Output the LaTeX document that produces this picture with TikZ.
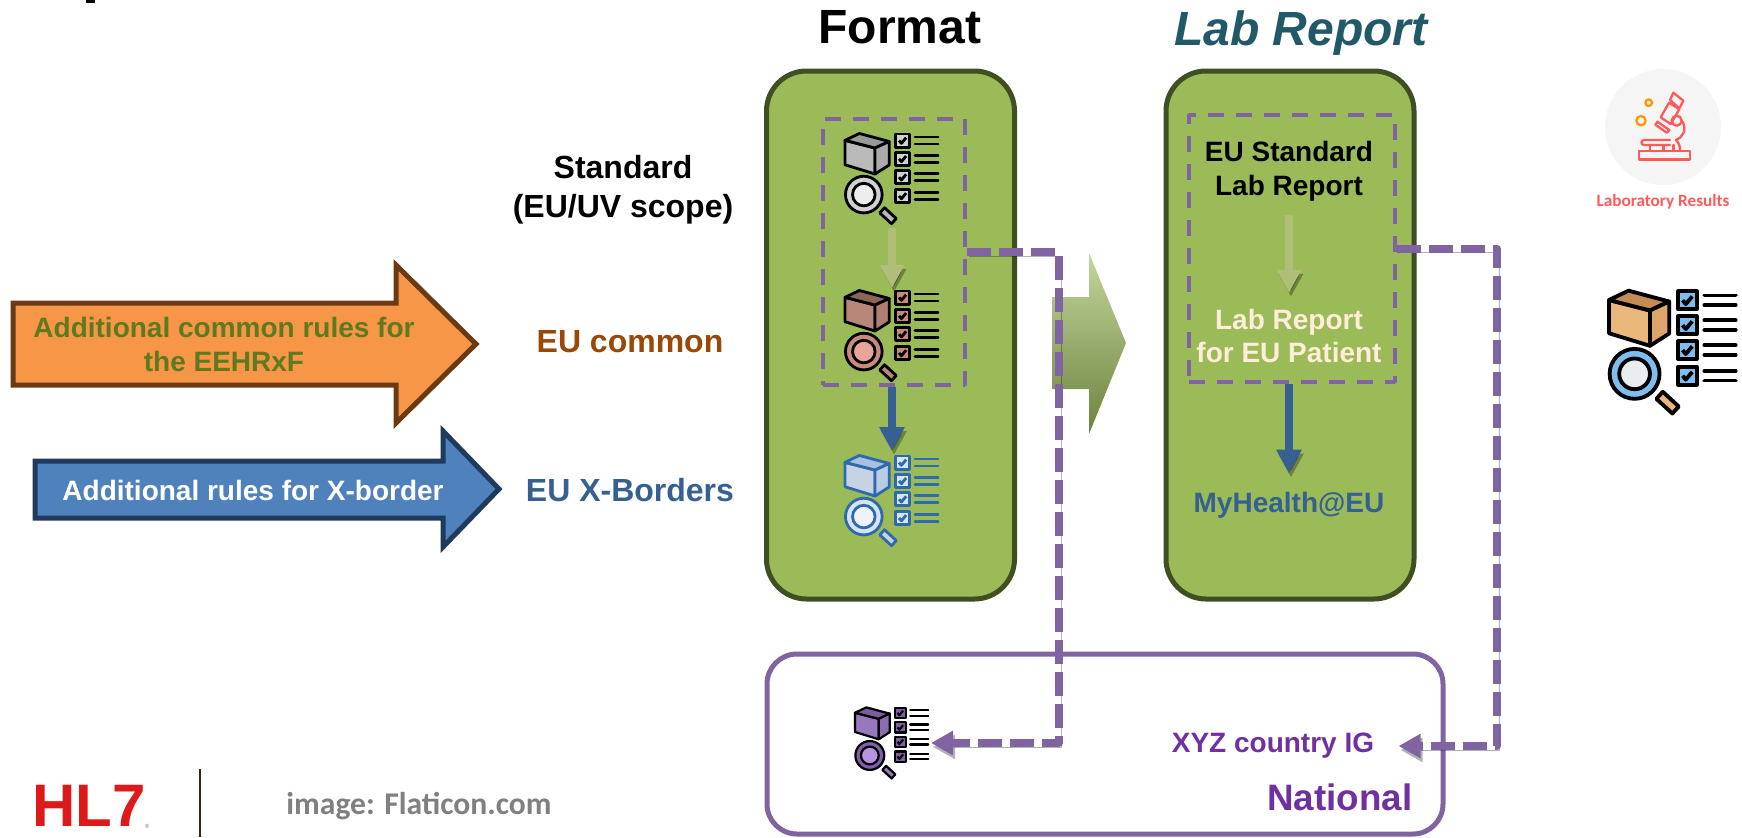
\documentclass[tikz,border=0pt]{standalone}
\usepackage{fontspec}
\setmainfont{Liberation Sans}
\newfontfamily\calfont{Carlito}
\usetikzlibrary{arrows.meta}
\definecolor{hlgreen}{HTML}{9BBB59}
\definecolor{hlgreenD}{HTML}{3F4F21}
\definecolor{hlpurple}{HTML}{8064A2}
\definecolor{hlviolet}{HTML}{7030A0}
\definecolor{hlblue}{HTML}{376092}
\definecolor{hlsage}{HTML}{B0BE78}
\definecolor{hlcoral}{HTML}{FF5A5A}
\definecolor{hlteal}{HTML}{215968}
\definecolor{hlbrown}{HTML}{984807}
\definecolor{hlolive}{HTML}{5F7A1E}
\definecolor{hlorange}{HTML}{F79646}
\definecolor{hlorangeD}{HTML}{6B3A14}
\definecolor{hlsky}{HTML}{4F81BD}
\definecolor{hlnavy}{HTML}{1F3A5C}
\newcommand{\fs}[2]{\bfseries\fontsize{#1}{#2}\selectfont}
% x, y, size, stroke, front, top, side, ring, lens
\newcommand{\specicon}[9]{%
	\begin{scope}[shift={(#1,#2)},x=#3*.5pt,y=-#3*.5pt,line width=#3*.015pt,color=#4]
		\draw[fill=#5] (0,.078)--(.32,.16)--(.32,.436)--(0,.338)--cycle;
		\draw[fill=#6] (0,.078)--(.153,.005)--(.47,.09)--(.32,.16)--cycle;
		\draw[fill=#7] (.32,.16)--(.47,.09)--(.47,.34)--(.32,.436)--cycle;
		\draw[fill=#5] (.37,.85)--(.42,.795)--(.545,.91)--(.495,.965)--cycle;
		\draw[fill=#8] (.2,.655) circle (.195);
		\draw[fill=#9] (.2,.655) circle (.12);
		\foreach \yy in {.08,.275,.47,.67}{
			\draw[fill=#8] (.54,\yy-.07) rectangle (.685,\yy+.07);
			\draw (.575,\yy)--(.6,\yy+.03)--(.65,\yy-.03);
			\draw[line cap=round] (.745,\yy-.0375)--(.99,\yy-.0375) (.745,\yy+.0375)--(.99,\yy+.0375);
		}
	\end{scope}}
\tikzset{
	greenbox/.style={draw=hlgreenD,fill=hlgreen,line width=2.5pt,rounded corners=20pt,minimum width=124pt,minimum height=264pt,inner sep=0},
	dashbox/.style={draw=hlpurple,line width=1.75pt,dash pattern=on 8pt off 6pt,inner sep=0},
	bigarrow/.style={line width=2.5pt,line join=miter,miter limit=10},
	softshadow/.style={preaction={draw=black,opacity=.3,transform canvas={shift={(1pt,-2pt)}}}},
	purpledash/.style={draw=hlpurple,line width=4pt,dash pattern=on 12pt off 4pt,line join=round,softshadow,-{Triangle[length=11pt,width=11.5pt]}},
	sagearrow/.style={draw=hlsage,line width=4pt,-{Triangle[length=11.5pt,width=11.5pt]}},
	bluearrow/.style={draw=hlblue,line width=4pt,-{Triangle[length=12pt,width=12pt]}},
	txt/.style={inner sep=0,align=center,font=\fs{14}{17}},
	side/.style={inner sep=0,align=center,font=\fs{16}{19.5}},
	title/.style={inner sep=0,font=\fs{24}{28}}
}
\begin{document}
\begin{tikzpicture}[x=.5pt,y=-.5pt,line join=round]
	\path[use as bounding box,fill=white] (0,0) rectangle (1742,837);
	\fill[black] (86,0) rectangle (95,3); % bottom of a cut off letter

	% green columns
	\node[greenbox] (fmtbox) at (890.5,335) {};
	\node[greenbox] (labbox) at (1290,335) {};
	\node[draw=hlpurple,line width=2.5pt,rounded corners=15pt,minimum width=338pt,minimum height=90pt,inner sep=0] (natbox) at (1105,744) {};
	\node[dashbox,minimum width=71pt,minimum height=133pt] (fmtrect) at (894,252) {};
	\node[dashbox,minimum width=103pt,minimum height=133.5pt] (labrect) at (1292,248.5) {};
	\shade[bottom color=hlgreen!70!black,middle color=hlgreen,top color=hlgreen!60!white]
	(1052,297)--(1089,297)--(1089,253)--(1126,343)--(1089,434)--(1089,389)--(1052,389)--cycle;

	% titles and side labels
	\path 
	(900,27) node[title] (fmttitle) {Format}
	(1301,33) node[title,color=hlteal] (labtitle) {\itshape Lab Report}
	(623,190) node[side] (std) {Standard\\(EU/UV scope)}
	(630,342) node[side,color=hlbrown] (common) {EU common}
	(630,490) node[side,color=hlblue] (xborder) {EU X-Borders}
	(1289,171) node[txt,font=\fs{14}{17}] (labstd) {EU Standard\\Lab Report}
	(1289,336) node[txt,font=\fs{14}{16.5},color=orange!15!white] (labeu) {Lab Report\\for EU Patient}
	(1289,505) node[txt,color=hlblue] (myhealth) {MyHealth@EU}
	(1273,746) node[txt,color=hlviolet] (xyz) {XYZ country IG}
	(1340,797) node[txt,font=\fs{18.4}{21},color=hlviolet] (national) {National};

	% rule arrows on the left
	\draw[bigarrow,draw=hlorangeD,fill=hlorange]
	(13,303)--(396,303)--(396,265)--(476,344)--(396,423)--(396,385)--(13,385)--cycle;
	\draw[bigarrow,draw=hlnavy,fill=hlsky]
	(35,461)--(443,461)--(443,431)--(499,489)--(443,547)--(443,518)--(35,518)--cycle;
	\node[txt,color=hlolive] (addcommon) at (224,344) {Additional common rules for\\the EEHRxF};
	\node[txt,color=white] (addxb) at (253,490) {Additional rules for X-border};

	% icons
	\definecolor{redfront}{HTML}{B9877A}\definecolor{redtop}{HTML}{8F6458}\definecolor{redside}{HTML}{AE7F72}\definecolor{redring}{HTML}{C98A7A}\definecolor{redlens}{HTML}{E8A698}
	\definecolor{blueline}{HTML}{2F6BAC}\definecolor{bluefront}{HTML}{C5D3E5}\definecolor{bluetop}{HTML}{A9C0DF}\definecolor{blueside}{HTML}{B8CCE4}\definecolor{bluering}{HTML}{D5E3F2}\definecolor{bluelens}{HTML}{EFF3F9}
	\definecolor{purfront}{HTML}{9678BC}\definecolor{purtop}{HTML}{7A5CA0}\definecolor{purside}{HTML}{8A6CB0}\definecolor{purring}{HTML}{7E5FA8}\definecolor{purlens}{HTML}{B993E0}
	\definecolor{boxfront}{HTML}{E9B87A}\definecolor{boxtop}{HTML}{C48B55}\definecolor{boxside}{HTML}{DEA56B}\definecolor{boxring}{HTML}{7FBDEE}\definecolor{boxlens}{HTML}{E9EDF0}
	\specicon{845}{133}{94}{black}{black!27}{black!40}{black!33}{black!18}{black!7}
	\specicon{845}{290}{94}{black}{redfront}{redtop}{redside}{redring}{redlens}
	\specicon{845}{455}{94}{blueline}{bluefront}{bluetop}{blueside}{bluering}{bluelens}
	\specicon{855}{707}{74}{black}{purfront}{purtop}{purside}{purring}{purlens}
	\specicon{1609}{290}{128}{black}{boxfront}{boxtop}{boxside}{boxring}{boxlens}

	% arrows
	\coordinate (fmtA) at (892,228);
	\coordinate (fmtB) at (892,288);
	\coordinate (fmtC) at (892,451);
	\draw[sagearrow,softshadow] (fmtA)--(fmtB);
	\draw[bluearrow,softshadow] (fmtrect.south-|fmtC)--(fmtC);
	\draw[sagearrow,softshadow,shorten <=7pt,shorten >=8pt] (labstd.south)--(labeu.north);
	\draw[bluearrow,softshadow,shorten >=9pt] (labrect.south-|myhealth.north)--(myhealth.north);

	% links to national
	\coordinate (turnA) at (1059,743);
	\coordinate (turnB) at (1497,746);
	\coordinate (naticon) at (931,743);
	\draw[purpledash] (fmtrect.east)-|(turnA)--(naticon);
	\draw[purpledash,shorten >=12pt] (labrect.east)-|(turnB)--(xyz.east);

	% microscope
	\fill[black!4] (1663,127) circle (58);
	\begin{scope}[shift={(1620,80)},x=.1667pt,y=-.1667pt,line width=1.15pt,draw=hlcoral,line cap=round]
		\draw (160,38)--(190,62)--(178,85)--(150,60)--cycle;
		\draw (147,68)--(178,88)--(152,132)--(122,112)--cycle;
		\draw (112,125)--(148,150)--(140,158)--(106,134)--cycle;
		\draw (170,122) circle (15);
		\draw (188,125) .. controls (200,150) and (190,170) .. (168,180) .. controls (178,190) and (180,200) .. (180,212);
		\draw (150,180)--(72,180) .. controls (62,180) and (62,195) .. (72,195)--(150,195);
		\draw (90,195)--(90,213) (130,195)--(130,213) (160,195)--(160,213);
		\draw (57,213) rectangle (210,238);
		\draw[draw=orange!80!yellow] (86,68) circle (10) (63,122) circle (14);
	\end{scope}
	\node[inner sep=0,font=\calfont\fs{8.6}{10},color=hlcoral] (labres) at (1663,202) {Laboratory Results};

	% footer
	\node[inner sep=0,font=\fs{30}{30},color=red!85!black!90!white] (hlseven) at (89,806) {HL7};
	\node[inner sep=0,font=\fontsize{3}{3}\selectfont,color=black!50] (regmark) at (147,826) {®};
	\draw[black!70!brown,line width=.6pt] (200,769)--(200,837);
	\node[inner sep=0,font=\calfont\fs{15.8}{18},color=black!50] (credit) at (419,806) {image: Flaticon.com};
\end{tikzpicture}
\end{document}
